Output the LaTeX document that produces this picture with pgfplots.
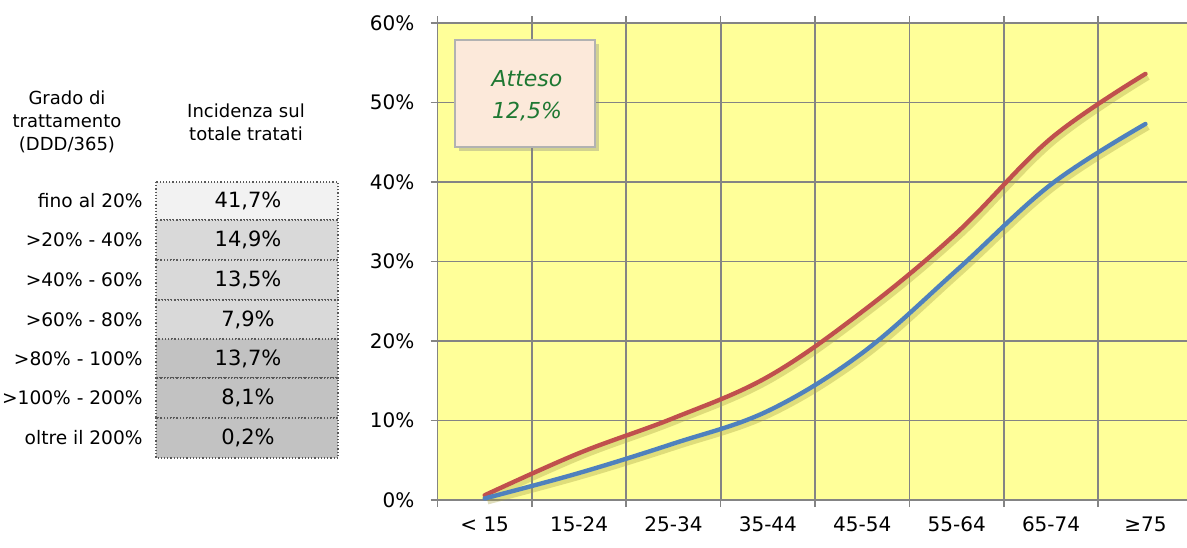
\documentclass[border=0pt]{standalone}
\usepackage{pgfplots}
\pgfplotsset{compat=1.18}
\usepackage{fontspec}
\setmainfont{DejaVu Sans}
\usetikzlibrary{shadows}

\definecolor{redline}{HTML}{C0504D}
\definecolor{blueline}{HTML}{4F81BD}
\definecolor{plotbg}{HTML}{FFFF99}
\definecolor{gridc}{HTML}{848484}
\definecolor{boxfill}{HTML}{FCE9DA}
\definecolor{boxgreen}{RGB}{30,120,50}
\definecolor{cellA}{HTML}{F2F2F2}
\definecolor{cellB}{HTML}{D9D9D9}
\definecolor{cellC}{HTML}{C2C2C2}

\begin{document}
\begin{tikzpicture}
\useasboundingbox (0,0) rectangle (593.5pt,273.5pt);

% table on the left, coordinates in pixels from top left
\begin{scope}[x=0.5pt,y=-0.5pt,yshift=273.5pt]
  \node[align=center,font=\fontsize{9}{11.5}\selectfont] at (67,122)
    {Grado di\\trattamento\\(DDD/365)};
  \node[align=center,font=\fontsize{9}{11.5}\selectfont] at (246,122)
    {Incidenza sul\\totale tratati};
  \foreach \top/\bot/\fc/\lab/\val in {
      182/220/cellA/fino al 20\%/41{,}7\%,
      220/260/cellB/>20\% - 40\%/14{,}9\%,
      260/300/cellB/>40\% - 60\%/13{,}5\%,
      300/339/cellB/>60\% - 80\%/7{,}9\%,
      339/378/cellC/>80\% - 100\%/13{,}7\%,
      378/418/cellC/>100\% - 200\%/8{,}1\%,
      418/458/cellC/oltre il 200\%/0{,}2\%} {
    \filldraw[fill=\fc, draw=black!65, densely dotted, line width=0.6pt]
      (156,\top) rectangle (338,\bot);
    \node[anchor=east,font=\fontsize{9.3}{11}\selectfont,inner sep=0pt]
      at (143,{(\top+\bot)/2}) {\lab};
    \node[font=\fontsize{10.5}{12}\selectfont,inner sep=0pt]
      at (248,{(\top+\bot)/2}) {\val};
  }
\end{scope}

\begin{axis}[
  at={(218.75pt,23.5pt)}, anchor=south west,
  scale only axis,
  width=374.75pt, height=238.5pt,
  xmin=-0.5, xmax=7.44,
  ymin=0, ymax=60,
  axis background/.style={fill=plotbg},
  axis line style={draw=none},
  tick align=outside,
  major tick length=3.5pt,
  tick style={gridc, line width=0.8pt},
  grid=major,
  major grid style={gridc, line width=0.85pt},
  xtick={-0.5,0.5,1.5,2.5,3.5,4.5,5.5,6.5},
  xticklabels={},
  extra x ticks={0,1,2,3,4,5,6,7},
  extra x tick labels={< 15,15-24,25-34,35-44,45-54,55-64,65-74,≥75},
  extra x tick style={grid=none, major tick length=0pt,
    xticklabel style={yshift=-5pt}},
  ytick={0,10,20,30,40,50,60},
  yticklabels={0\%,10\%,20\%,30\%,40\%,50\%,60\%},
  yticklabel style={xshift=-4.5pt},
  tick label style={font=\fontsize{10}{12}\selectfont, text=black},
  clip=false,
]
% shadows
\addplot[smooth, tension=0.6, line width=2.4pt, black!40!yellow, opacity=0.35,
  xshift=1.5pt, yshift=-1.8pt] coordinates {
  (0,0.6)(1,5.9)(2,10.3)(3,15.5)(4,23.7)(5,33.6)(6,45.5)(7,53.6)
};
\addplot[smooth, tension=0.6, line width=2.4pt, black!40!yellow, opacity=0.35,
  xshift=1.5pt, yshift=-1.8pt] coordinates {
  (0,0.2)(1,3.4)(2,7.1)(3,11.2)(4,18.5)(5,28.9)(6,39.7)(7,47.3)
};
% series
\addplot[smooth, tension=0.6, line width=2.2pt, redline, line cap=round] coordinates {
  (0,0.6)(1,5.9)(2,10.3)(3,15.5)(4,23.7)(5,33.6)(6,45.5)(7,53.6)
};
\addplot[smooth, tension=0.6, line width=2.2pt, blueline, line cap=round] coordinates {
  (0,0.2)(1,3.4)(2,7.1)(3,11.2)(4,18.5)(5,28.9)(6,39.7)(7,47.3)
};
\end{axis}

% annotation box
\begin{scope}[x=0.5pt,y=-0.5pt,yshift=273.5pt]
  \filldraw[fill=boxfill, draw=black!30, line width=0.6pt,
    drop shadow={shadow xshift=2pt, shadow yshift=-2pt, opacity=0.35}]
    (455,40) rectangle (595,147);
  \node[align=center, text=boxgreen, font=\fontsize{11}{16}\selectfont\itshape]
    at (527,96) {Atteso\\12,5\%};
\end{scope}
\end{tikzpicture}
\end{document}
